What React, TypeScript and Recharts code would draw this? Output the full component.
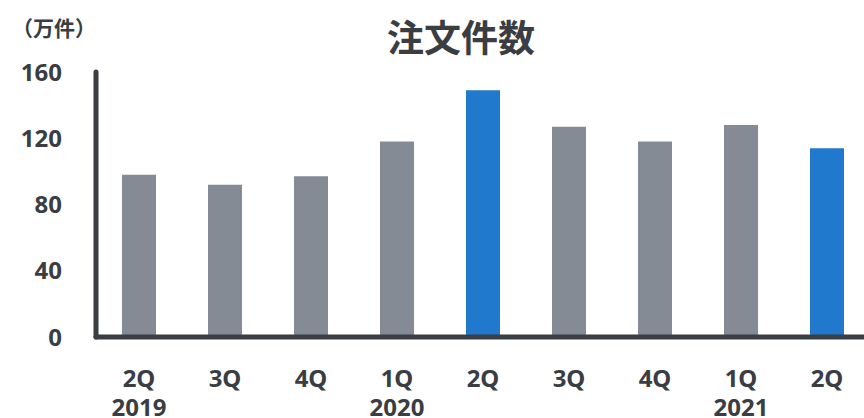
import React from 'react';
import { BarChart, Bar, XAxis, YAxis, Cell } from 'recharts';

const quarters = ['2Q', '3Q', '4Q', '1Q', '2Q', '3Q', '4Q', '1Q', '2Q'];
const years = ['2019', '', '', '2020', '', '', '', '2021', ''];
const orders = [98, 92, 97, 118, 149, 127, 118, 128, 114];
const highlighted = [false, false, false, false, true, false, false, false, true];
const yTicks = [0, 40, 80, 120, 160];

const title = '注文件数';
const unitLabel = '（万件）';

const GRAY = '#848b94';
const BLUE = '#2079cd';
const DARK = '#3a3d42';
const FONT = '"Noto Sans CJK JP", "Noto Sans", sans-serif';
const NUMFONT = '"Noto Sans", "Open Sans", sans-serif';

const data = quarters.map((q, i) => ({ key: i, q, year: years[i], value: orders[i] }));

const QuarterTick = (props: any) => {
  const { x, y, payload } = props;
  const d = data[payload.index] ?? data[payload.value];
  return (
    <g>
      <text x={x} y={y + 40} textAnchor="middle" dominantBaseline="central" fill={DARK} fontSize={24} fontWeight={700} fontFamily={NUMFONT}>
        {d ? d.q : ''}
      </text>
      {d && d.year ? (
        <text x={x} y={y + 69} textAnchor="middle" dominantBaseline="central" fill={DARK} fontSize={24} fontWeight={700} fontFamily={NUMFONT}>
          {d.year}
        </text>
      ) : null}
    </g>
  );
};

export default function App() {
  return (
    <div style={{ position: 'fixed', left: 0, top: 0, width: 864, height: 418, overflow: 'hidden', background: '#fff' }}>
      <div style={{ position: 'absolute', left: 12, top: 13, fontSize: 21, lineHeight: '28px', fontWeight: 700, color: DARK, fontFamily: FONT }}>
        {unitLabel}
      </div>
      <div style={{ position: 'absolute', left: 311, width: 300, top: 16, fontSize: 37, lineHeight: '40px', fontWeight: 700, color: DARK, fontFamily: FONT, textAlign: 'center' }}>
        {title}
      </div>
      <BarChart width={870} height={418} data={data} margin={{ top: 72, right: 0, bottom: 0, left: 0 }}>
        <YAxis
          type="number"
          domain={[0, 160]}
          ticks={yTicks}
          interval={0}
          width={96}
          tickSize={0}
          tickMargin={34}
          tickLine={false}
          axisLine={{ stroke: DARK, strokeWidth: 5, strokeLinecap: 'round' }}
          tick={{ fill: DARK, fontSize: 24, fontWeight: 700, fontFamily: NUMFONT }}
        />
        <XAxis
          dataKey="key"
          type="category"
          interval={0}
          height={81}
          tickSize={0}
          tickMargin={0}
          tickLine={false}
          axisLine={{ stroke: DARK, strokeWidth: 5, strokeLinecap: 'round' }}
          tick={<QuarterTick />}
        />
        <Bar dataKey="value" barSize={34} isAnimationActive={false}>
          {data.map((d, i) => (
            <Cell key={i} fill={highlighted[i] ? BLUE : GRAY} />
          ))}
        </Bar>
      </BarChart>
    </div>
  );
}
